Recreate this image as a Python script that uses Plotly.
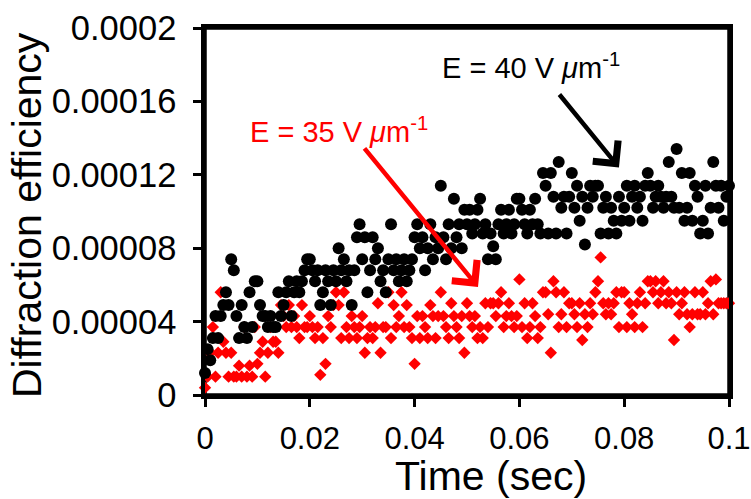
import plotly.graph_objects as go

# sample times in milliseconds
time_ms = [
    0, 0.5, 1, 1.5, 2, 2.5, 3, 3.5, 4, 4.5,
    5, 5.5, 6, 6.5, 7, 7.5, 8, 8.5, 9, 9.5,
    10, 10.5, 11, 11.5, 12, 12.5, 13, 13.5, 14, 14.5,
    15, 15.5, 16, 16.5, 17, 17.5, 18, 18.5, 19, 19.5,
    20, 20.5, 21, 21.5, 22, 22.5, 23, 23.5, 24, 24.5,
    25, 25.5, 26, 26.5, 27, 27.5, 28, 28.5, 29, 29.5,
    30, 30.5, 31, 31.5, 32, 32.5, 33, 33.5, 34, 34.5,
    35, 35.5, 36, 36.5, 37, 37.5, 38, 38.5, 39, 39.5,
    40, 40.5, 41, 41.5, 42, 42.5, 43, 43.5, 44, 44.5,
    45, 45.5, 46, 46.5, 47, 47.5, 48, 48.5, 49, 49.5,
    50, 50.5, 51, 51.5, 52, 52.5, 53, 53.5, 54, 54.5,
    55, 55.5, 56, 56.5, 57, 57.5, 58, 58.5, 59, 59.5,
    60, 60.5, 61, 61.5, 62, 62.5, 63, 63.5, 64, 64.5,
    65, 65.5, 66, 66.5, 67, 67.5, 68, 68.5, 69, 69.5,
    70, 70.5, 71, 71.5, 72, 72.5, 73, 73.5, 74, 74.5,
    75, 75.5, 76, 76.5, 77, 77.5, 78, 78.5, 79, 79.5,
    80, 80.5, 81, 81.5, 82, 82.5, 83, 83.5, 84, 84.5,
    85, 85.5, 86, 86.5, 87, 87.5, 88, 88.5, 89, 89.5,
    90, 90.5, 91, 91.5, 92, 92.5, 93, 93.5, 94, 94.5,
    95, 95.5, 96, 96.5, 97, 97.5, 98, 98.5, 99, 99.5,
    100,
]

# diffraction efficiency, units of 1e-5
eff_40V = [
    1.2, 2.5, 1.9, 3.1, 4.3, 3.1, 4.3, 4.9, 5.6, 4.9,
    7.4, 6.8, 4.3, 3.1, 4.9, 3.7, 3.1, 5.6, 3.7, 6.2,
    6.2, 4.9, 4.3, 4.3, 3.7, 4.3, 3.7, 3.7, 5.6, 4.3,
    4.9, 5.6, 6.2, 4.3, 5.6, 6.2, 5.6, 6.2, 6.8, 7.4,
    7.4, 6.8, 6.2, 6.8, 4.9, 5.6, 6.8, 6.2, 4.9, 6.8,
    6.2, 8.0, 6.8, 7.4, 6.2, 6.8, 4.9, 6.8, 8.6, 9.3,
    7.4, 8.6, 5.6, 6.8, 8.6, 7.4, 8.0, 6.2, 6.8, 5.6,
    7.4, 9.3, 6.8, 7.4, 6.2, 6.8, 7.4, 6.2, 6.8, 7.4,
    8.6, 9.3, 8.0, 8.6, 6.8, 8.0, 9.3, 7.4, 8.6, 8.0,
    11.4, 8.6, 7.4, 9.3, 8.0, 10.7, 8.6, 9.3, 8.0, 10.1,
    9.3, 10.1, 8.8, 9.3, 10.1, 10.7, 8.8, 9.3, 7.4, 8.8,
    8.1, 7.4, 9.3, 10.1, 8.8, 9.3, 10.1, 8.8, 9.3, 10.7,
    10.7, 10.1, 9.3, 8.8, 10.1, 9.3, 10.7, 9.3, 8.8, 12.1,
    11.4, 8.8, 12.1, 10.8, 8.8, 12.7, 10.2, 10.8, 8.8, 10.8,
    12.1, 10.2, 11.4, 9.5, 10.8, 8.2, 10.2, 11.4, 10.8, 11.4,
    11.4, 8.8, 10.2, 10.8, 8.8, 10.2, 9.5, 8.8, 10.8, 9.5,
    10.2, 11.4, 9.5, 10.8, 11.4, 10.2, 10.8, 9.5, 11.4, 12.1,
    11.4, 10.2, 10.8, 11.4, 10.8, 10.2, 10.8, 12.7, 10.8, 10.2,
    13.4, 10.2, 12.1, 9.5, 10.2, 12.1, 9.5, 11.4, 10.8, 8.8,
    9.5, 11.4, 8.8, 10.2, 12.7, 11.4, 10.2, 11.4, 9.5, 10.8,
    11.4,
]

eff_35V = [
    0.4, 1.0, 2.3, 3.7, 1.0, 2.3, 5.6, 2.9, 2.3, 1.0,
    2.3, 1.0, 1.0, 1.6, 1.0, 3.7, 1.0, 1.6, 1.0, 3.7,
    1.7, 2.3, 2.9, 1.0, 2.3, 3.7, 2.9, 2.9, 2.3, 4.9,
    4.3, 3.7, 4.9, 3.7, 4.3, 3.7, 3.1, 4.9, 3.7, 3.7,
    4.3, 3.7, 3.1, 3.7, 1.1, 3.1, 1.7, 4.3, 3.7, 4.9,
    5.6, 4.9, 3.1, 5.6, 3.7, 3.1, 4.3, 3.7, 3.1, 3.7,
    4.3, 2.3, 3.1, 3.7, 3.1, 3.7, 5.0, 2.3, 3.7, 3.7,
    5.6, 3.1, 4.9, 3.7, 4.3, 5.6, 3.7, 4.9, 3.7, 3.1,
    1.7, 4.3, 3.1, 4.3, 3.7, 3.1, 4.9, 4.3, 3.1, 4.3,
    5.6, 4.3, 3.7, 3.1, 5.0, 4.3, 3.7, 3.1, 4.3, 2.3,
    5.0, 4.3, 3.7, 4.3, 3.1, 3.7, 3.1, 5.0, 3.7, 5.0,
    5.0, 4.3, 5.0, 5.6, 3.7, 4.3, 5.0, 4.3, 3.7, 4.3,
    6.3, 3.7, 5.0, 3.1, 3.7, 5.0, 4.3, 3.1, 3.7, 5.6,
    5.6, 4.4, 2.3, 6.2, 5.6, 3.7, 4.4, 5.6, 3.7, 5.0,
    5.0, 4.4, 3.7, 5.0, 3.0, 4.4, 3.7, 5.0, 4.4, 5.6,
    6.2, 7.5, 5.0, 4.4, 5.0, 4.4, 5.0, 5.6, 3.7, 5.6,
    5.6, 3.7, 5.0, 4.4, 3.7, 5.0, 5.6, 3.7, 5.0, 6.2,
    6.2, 5.6, 6.2, 5.0, 5.6, 6.2, 5.0, 5.6, 5.0, 3.0,
    5.6, 4.4, 5.0, 5.6, 4.4, 3.7, 4.4, 5.6, 4.4, 4.4,
    5.6, 4.4, 5.0, 6.2, 4.4, 6.3, 5.0, 5.0, 5.0, 5.0,
    5.0,
]

x_tick_vals = [0, 0.02, 0.04, 0.06, 0.08, 0.1]
x_tick_text = ["0", "0.02", "0.04", "0.06", "0.08", "0.1"]
y_tick_vals = [0, 0.00004, 0.00008, 0.00012, 0.00016, 0.0002]
y_tick_text = ["0", "0.00004", "0.00008", "0.00012", "0.00016", "0.0002"]

t_sec = [v / 1000 for v in time_ms]
y40 = [v * 1e-5 for v in eff_40V]
y35 = [v * 1e-5 for v in eff_35V]

FONT = "Liberation Sans, Arial, sans-serif"

fig = go.Figure()
fig.add_trace(go.Scatter(
    x=t_sec, y=y35, mode="markers", name="E = 35 V/um",
    marker=dict(symbol="diamond", size=9.5, color="#ff0000", line=dict(width=0)),
    cliponaxis=False, showlegend=False,
))
fig.add_trace(go.Scatter(
    x=t_sec, y=y40, mode="markers", name="E = 40 V/um",
    marker=dict(symbol="circle", size=12, color="#000000", line=dict(width=0)),
    cliponaxis=False, showlegend=False,
))

axis_common = dict(
    showgrid=False, zeroline=False, showline=True, linecolor="black",
    linewidth=3.5, mirror=True, ticks="outside", ticklen=8, tickwidth=3,
    tickcolor="black", tickmode="array", ticklabeloverflow="allow",
    automargin=False,
)

fig.update_layout(
    width=751, height=499,
    margin=dict(l=205, r=22, t=28, b=104, autoexpand=False),
    paper_bgcolor="white", plot_bgcolor="white",
    xaxis=dict(range=[0, 0.1], tickvals=x_tick_vals, ticktext=x_tick_text,
               ticklabelstandoff=5,
               tickfont=dict(family=FONT, size=31, color="black"),
               **axis_common),
    yaxis=dict(range=[0, 0.0002], tickvals=y_tick_vals, ticktext=y_tick_text,
               ticklabelstandoff=10,
               tickfont=dict(family=FONT, size=34.5, color="black"),
               **axis_common),
    shapes=[
        dict(type="rect", xref="paper", yref="paper", x0=0, x1=1, y0=0, y1=1,
             line=dict(color="black", width=3.5), layer="below"),
    ],
    annotations=[
        dict(text="Diffraction efficiency", xref="paper", yref="paper",
             x=-0.34, y=0.49, textangle=-90, showarrow=False,
             xanchor="center", yanchor="middle",
             font=dict(family=FONT, size=41, color="black")),
        dict(text="Time (sec)", xref="paper", yref="paper",
             x=0.545, y=-0.222, showarrow=False,
             xanchor="center", yanchor="middle",
             font=dict(family=FONT, size=41, color="black")),
        dict(text="E = 40 V <i>μ</i>m<sup>-1</sup>", xref="x", yref="y",
             x=0.0622, y=0.0001795, showarrow=False,
             xanchor="center", yanchor="middle",
             font=dict(family=FONT, size=29, color="black")),
        dict(text="E = 35 V <i>μ</i>m<sup>-1</sup>", xref="x", yref="y",
             x=0.02557, y=0.0001444, showarrow=False,
             xanchor="center", yanchor="middle",
             font=dict(family=FONT, size=29, color="#ff0000")),
        dict(text="", xref="x", yref="y", axref="x", ayref="y",
             x=0.0790, y=0.0001240, ax=0.0674, ay=0.0001646,
             showarrow=True, arrowhead=4, arrowsize=1.4, arrowwidth=4.5,
             arrowcolor="black", standoff=0),
        dict(text="", xref="x", yref="y", axref="x", ayref="y",
             x=0.0521, y=0.0000589, ax=0.0302, ay=0.0001352,
             showarrow=True, arrowhead=4, arrowsize=1.4, arrowwidth=4.5,
             arrowcolor="#ff0000", standoff=0),
    ],
)

fig.write_html(
    "out.html",
    config={"displayModeBar": False},
    post_script="document.body.style.margin='0';document.body.style.overflow='hidden';",
)
